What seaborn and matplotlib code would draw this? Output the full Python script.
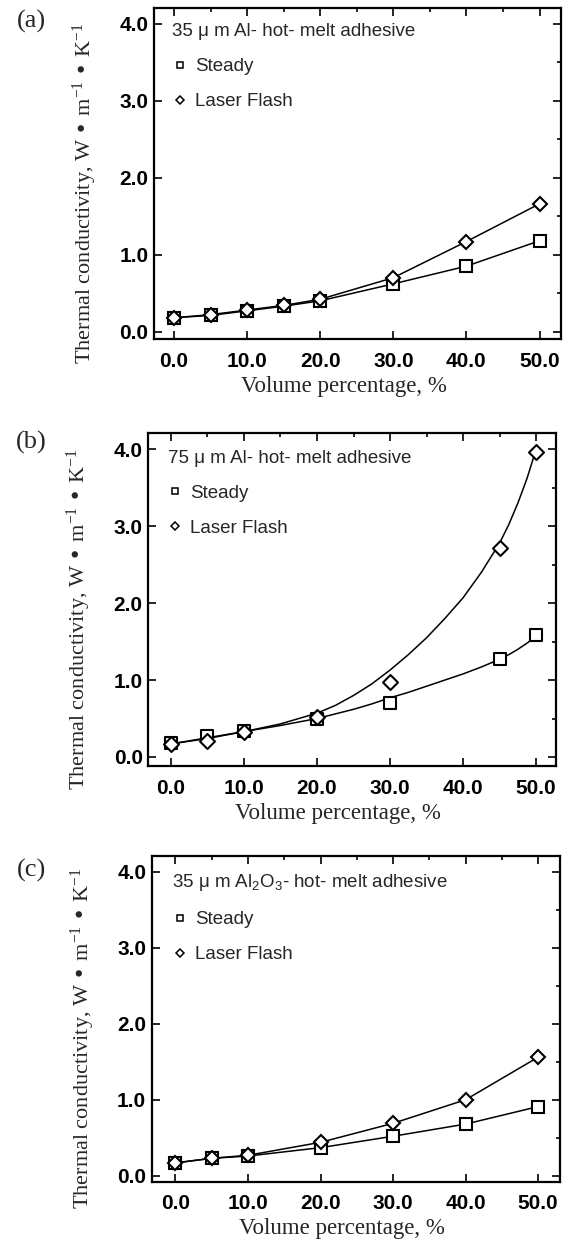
import matplotlib
matplotlib.use("Agg")
import matplotlib.pyplot as plt
from matplotlib.lines import Line2D
from matplotlib.ticker import MultipleLocator
import seaborn as sns

# (a) 35 um Al in hot-melt adhesive
x_a = [0, 5, 10, 15, 20, 30, 40, 50]
steady_a = [0.18, 0.21, 0.27, 0.33, 0.40, 0.62, 0.85, 1.18]
laser_a = [0.18, 0.22, 0.28, 0.34, 0.42, 0.70, 1.17, 1.66]

# (b) 75 um Al in hot-melt adhesive (points + fitted curves)
x_b = [0, 5, 10, 20, 30, 45, 50]
steady_b = [0.18, 0.27, 0.34, 0.50, 0.70, 1.27, 1.58]
laser_b = [0.17, 0.21, 0.33, 0.52, 0.97, 2.72, 3.97]
x_b_fit = [0, 5, 10, 15, 20, 22.5, 25, 27.5, 30, 32.5, 35, 37.5, 40, 42.5, 45,
           46.25, 47.5, 48.75, 50]
steady_b_fit = [0.17, 0.25, 0.33, 0.41, 0.50, 0.56, 0.62, 0.69, 0.77, 0.84, 0.92,
                1.00, 1.08, 1.17, 1.27, 1.33, 1.40, 1.48, 1.57]
laser_b_fit = [0.17, 0.24, 0.33, 0.43, 0.57, 0.67, 0.80, 0.95, 1.13, 1.33, 1.55,
               1.80, 2.07, 2.40, 2.78, 3.02, 3.30, 3.62, 4.00]

# (c) 35 um Al2O3 in hot-melt adhesive
x_c = [0, 5, 10, 20, 30, 40, 50]
steady_c = [0.17, 0.23, 0.26, 0.37, 0.52, 0.68, 0.91]
laser_c = [0.17, 0.23, 0.27, 0.44, 0.69, 1.00, 1.56]

titles = ["35 μ m Al- hot- melt adhesive",
          "75 μ m Al- hot- melt adhesive",
          "35 μ m Al$_2$O$_3$- hot- melt adhesive"]
panel_tags = ["(a)", "(b)", "(c)"]
series_names = ["Steady", "Laser Flash"]
x_ticks = [0, 10, 20, 30, 40, 50]
x_tick_labels = ["0.0", "10.0", "20.0", "30.0", "40.0", "50.0"]
y_ticks = [0, 1, 2, 3, 4]
y_tick_labels = ["0.0", "1.0", "2.0", "3.0", "4.0"]

sns.set_style("ticks")
plt.rcParams["font.family"] = ["Liberation Sans", "DejaVu Sans"]
plt.rcParams["mathtext.default"] = "regular"

fig = plt.figure(figsize=(5.66, 12.52), dpi=100)

# axes boxes [left, bottom, width, height], x-limits, y-limits, legend anchor, tag y
layout = [
    ([0.272, 0.729, 0.720, 0.265], (-2.74, 53.0), (-0.10, 4.21), (0.045, 0.952), 0.983),
    ([0.262, 0.388, 0.720, 0.266], (-3.10, 52.7), (-0.12, 4.21), (0.048, 0.950), 0.647),
    ([0.268, 0.056, 0.722, 0.260], (-3.27, 53.06), (-0.08, 4.20), (0.050, 0.951), 0.305),
]

sq = dict(marker="s", markersize=9, markerfacecolor="white", markeredgecolor="black", markeredgewidth=1.5)
dm = dict(marker="D", markersize=7.6, markerfacecolor="white", markeredgecolor="black", markeredgewidth=1.5)

for i, (box, xl, yl, leg_xy, tag_y) in enumerate(layout):
    ax = fig.add_axes(box)

    if i == 0:
        sns.lineplot(x=x_a, y=steady_a, ax=ax, color="black", lw=1.1, **sq)
        sns.lineplot(x=x_a, y=laser_a, ax=ax, color="black", lw=1.1, **dm)
    elif i == 1:
        sns.lineplot(x=x_b_fit, y=steady_b_fit, ax=ax, color="black", lw=1.1)
        sns.lineplot(x=x_b_fit, y=laser_b_fit, ax=ax, color="black", lw=1.1)
        sns.scatterplot(x=x_b, y=steady_b, ax=ax, marker="s", s=81, color="white",
                        edgecolor="black", linewidth=1.5, zorder=3)
        sns.scatterplot(x=x_b, y=laser_b, ax=ax, marker="D", s=58, color="white",
                        edgecolor="black", linewidth=1.5, zorder=4)
    else:
        sns.lineplot(x=x_c, y=steady_c, ax=ax, color="black", lw=1.1, **sq)
        sns.lineplot(x=x_c, y=laser_c, ax=ax, color="black", lw=1.1, **dm)

    ax.set_xlim(*xl)
    ax.set_ylim(*yl)
    ax.set_xticks(x_ticks)
    ax.set_xticklabels(x_tick_labels, fontweight="bold")
    ax.set_yticks(y_ticks)
    ax.set_yticklabels(y_tick_labels, fontweight="bold")
    ax.xaxis.set_minor_locator(MultipleLocator(5))
    ax.yaxis.set_minor_locator(MultipleLocator(0.5))
    ax.tick_params(which="both", direction="in", top=True, right=True, width=1.2,
                   labelsize=15, colors="black")
    ax.tick_params(which="major", length=6)
    ax.tick_params(axis="x", which="major", pad=9)
    ax.tick_params(axis="y", which="major", pad=4)
    ax.tick_params(which="minor", length=3, bottom=False, left=False)
    for s in ax.spines.values():
        s.set_linewidth(1.6)
        s.set_color("black")

    ax.set_xlabel("Volume percentage, %", family="Liberation Serif", fontsize=16.5)
    ax.set_ylabel("Thermal conductivity, W • m$^{-1}$ • K$^{-1}$",
                  family="Liberation Serif", fontsize=16)
    ax.xaxis.set_label_coords(0.465, -0.11)
    ax.yaxis.set_label_coords(-0.135, 0.44)

    handles = [
        Line2D([], [], ls="none", marker="s", ms=5, mfc="white", mec="black", mew=1.1),
        Line2D([], [], ls="none", marker="D", ms=4.2, mfc="white", mec="black", mew=1.1),
    ]
    ax.legend(handles, series_names, title=titles[i], loc="upper left",
              bbox_to_anchor=leg_xy, frameon=False, fontsize=13.5, title_fontsize=13.5,
              alignment="left", borderpad=0, borderaxespad=0, labelspacing=0.95,
              handlelength=0.8, handletextpad=0.4)

    fig.text(0.055, tag_y, panel_tags[i], family="Liberation Serif", fontsize=19,
             ha="center", va="center")

fig.savefig("out.png", dpi=100)
